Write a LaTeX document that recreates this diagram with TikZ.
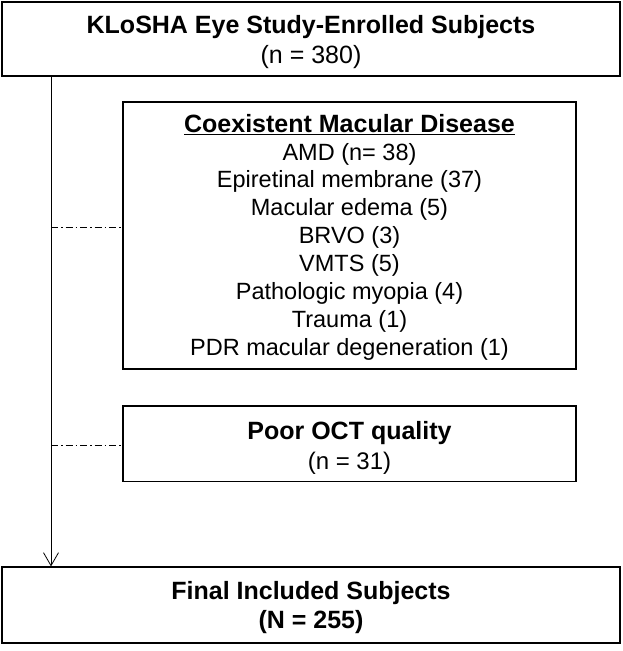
\documentclass[tikz,border=0pt]{standalone}
\usepackage{fontspec}
\setmainfont{Liberation Sans}
\usetikzlibrary{arrows.meta,positioning,calc}

\newcommand{\lift}[1]{\rule{0pt}{#1}}

\begin{document}
\begin{tikzpicture}[
    x=1pt, y=-1pt,
    box/.style={draw, line width=1.6pt, minimum width=#1, align=center, inner sep=0pt},
    arr/.style={-{Straight Barb[length=13pt, width=15pt]}, line width=0.8pt},
    side/.style={line width=0.6pt, dash pattern=on 7pt off 3pt on 1.5pt off 3pt}
]
\useasboundingbox (0,0) rectangle (622,651);

\node[box=618pt, minimum height=74pt, font=\fontsize{25}{30.5}\selectfont] (enrolled) at (311,39)
    {\lift{24.3pt}\textbf{KLoSHA Eye Study-Enrolled Subjects}\\(n = 380)};
\node[box=453pt, minimum height=267pt, font=\fontsize{23.5}{27.84}\selectfont] (disease) at (349.5,235.3)
    {\lift{21.6pt}\textbf{\fontsize{25}{27.84}\selectfont\underline{Coexistent Macular Disease}}\\AMD (n= 38)\\Epiretinal membrane (37)\\Macular edema (5)\\BRVO (3)\\VMTS (5)\\Pathologic myopia (4)\\Trauma (1)\\PDR macular degeneration (1)};
\node[box=453pt, minimum height=75.5pt, font=\fontsize{24}{30}\selectfont] (poorOCT) at (349.5,443.8)
    {\lift{27.3pt}\textbf{\fontsize{25}{30}\selectfont Poor OCT quality}\\(n = 31)};
\node[box=618pt, minimum height=75.5pt, font=\fontsize{25}{29}\selectfont\bfseries] (final) at (311,605)
    {\lift{22.9pt}Final Included Subjects\\(N = 255)};

% main flow
\coordinate (trunk) at ([xshift=-260pt]enrolled.south);
\draw[arr] (trunk) -- (trunk |- final.north);

% exclusions
\path (trunk) ++(0,150) coordinate (tapA);
\path (trunk) ++(0,368) coordinate (tapB);
\draw[side] (tapA) -- (tapA -| disease.west);
\draw[side] (tapB) -- (tapB -| poorOCT.west);
\end{tikzpicture}
\end{document}
